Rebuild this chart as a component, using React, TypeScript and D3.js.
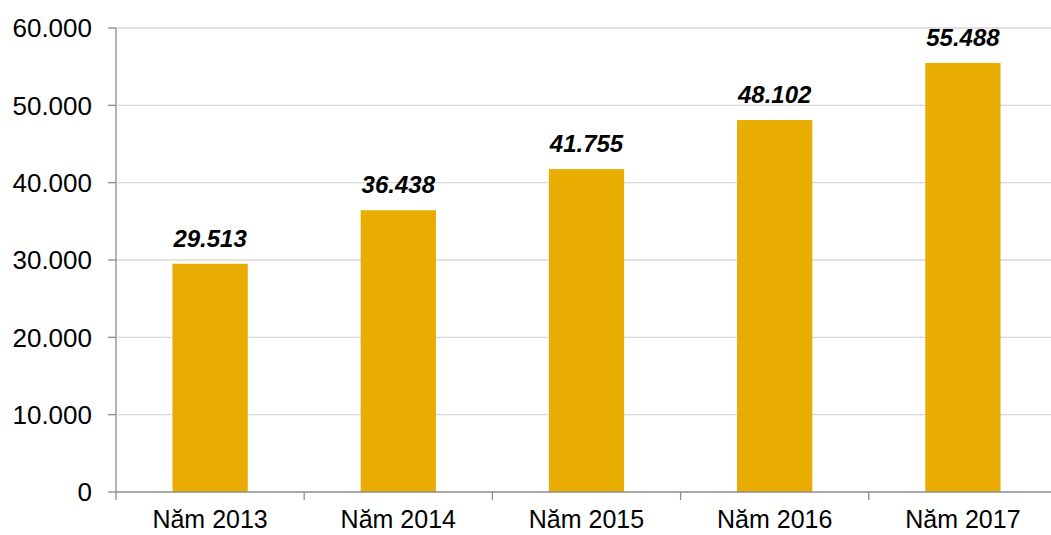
import React from 'react';
import * as d3 from 'd3';

const categories = ['Năm 2013', 'Năm 2014', 'Năm 2015', 'Năm 2016', 'Năm 2017'];
const values = [29513, 36438, 41755, 48102, 55488];
const yTicks = [0, 10000, 20000, 30000, 40000, 50000, 60000];

const W = 1051;
const H = 535;
const left = 116;
const right = 1057;
const top = 28;
const bottom = 492;

const fmt = (v: number) => {
  // Vietnamese style: dot as thousands separator
  const s = d3.format(',')(v);
  return s.replace(/,/g, '.');
};

export default function App() {
  const x = d3.scaleBand<string>()
    .domain(categories)
    .range([left, right])
    .paddingInner(0.6)
    .paddingOuter(0.3);
  const y = d3.scaleLinear().domain([0, 60000]).range([bottom, top]);
  const step = (right - left) / categories.length;
  const font = 'Arial, "Liberation Sans", sans-serif';

  return (
    <svg width={W} height={H} style={{ position: 'absolute', left: 0, top: 0, background: '#fff' }}>
      {/* gridlines */}
      {yTicks.filter(t => t > 0).map(t => (
        <line key={'g' + t} x1={left} x2={right} y1={y(t)} y2={y(t)} stroke="#d9d9d9" strokeWidth={1.3} />
      ))}
      {/* bars */}
      {categories.map((c, i) => (
        <rect key={c} x={x(c)} y={y(values[i])} width={x.bandwidth()} height={bottom - y(values[i])} fill="#E8AD00" />
      ))}
      {/* y axis */}
      <line x1={left} x2={left} y1={top} y2={bottom} stroke="#8c8c8c" strokeWidth={1.3} />
      {yTicks.map(t => (
        <g key={'t' + t}>
          <line x1={left - 8} x2={left} y1={y(t)} y2={y(t)} stroke="#8c8c8c" strokeWidth={1.3} />
          <text x={left - 24} y={y(t)} dy="0.36em" textAnchor="end" fontFamily={font} fontSize={26} fill="#000">
            {t === 0 ? '0' : fmt(t)}
          </text>
        </g>
      ))}
      {/* x axis */}
      <line x1={left} x2={right} y1={bottom} y2={bottom} stroke="#8c8c8c" strokeWidth={1.3} />
      {d3.range(categories.length + 1).map(i => (
        <line key={'xt' + i} x1={left + i * step} x2={left + i * step} y1={bottom} y2={bottom + 8} stroke="#8c8c8c" strokeWidth={1.3} />
      ))}
      {categories.map(c => (
        <text key={'l' + c} x={(x(c) ?? 0) + x.bandwidth() / 2} y={528} textAnchor="middle" fontFamily={font} fontSize={25} fill="#000">
          {c}
        </text>
      ))}
      {/* data labels */}
      {categories.map((c, i) => (
        <text key={'v' + c} x={(x(c) ?? 0) + x.bandwidth() / 2} y={y(values[i]) - 17} textAnchor="middle"
          fontFamily={font} fontSize={24} fontWeight="bold" fontStyle="italic" fill="#000">
          {fmt(values[i])}
        </text>
      ))}
    </svg>
  );
}
